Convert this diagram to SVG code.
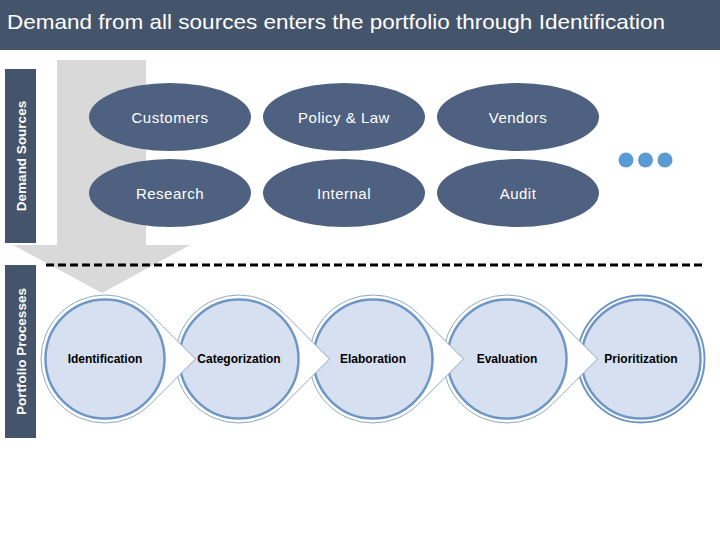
<svg xmlns="http://www.w3.org/2000/svg" width="720" height="540" viewBox="0 0 720 540">
<style>
.hdr{fill:#44546A}
.title{font-family:"Liberation Sans",Arial,sans-serif;font-size:21px;fill:#fff}
.side{font-family:"Liberation Sans",Arial,sans-serif;font-size:13.5px;font-weight:bold;fill:#fff}
.src{fill:#4E6181}
.srct{font-family:"Liberation Sans",Arial,sans-serif;font-size:15px;letter-spacing:0.5px;fill:#fff;text-anchor:middle}
.tear{fill:#fff;stroke:#8DA6C4;stroke-width:1}
.inner{fill:#D6E0F1;stroke:#6F97C5;stroke-width:2.5}
.proct{font-family:"Liberation Sans",Arial,sans-serif;font-size:12px;font-weight:bold;fill:#000;text-anchor:middle}
.dot{fill:#5B9BD5}
</style>
<rect class="hdr" x="0" y="0" width="720" height="50"/>
<text class="title" x="7" y="29" textLength="658" lengthAdjust="spacingAndGlyphs">Demand from all sources enters the portfolio through Identification</text>

<g id="demand-sources-label">
<rect class="hdr" x="5" y="69" width="31" height="174"/>
<text class="side" transform="translate(25.5,156) rotate(-90)" text-anchor="middle">Demand Sources</text>
</g>
<g id="portfolio-processes-label">
<rect class="hdr" x="5" y="265" width="31" height="173"/>
<text class="side" transform="translate(25.5,351.5) rotate(-90)" text-anchor="middle">Portfolio Processes</text>
</g>

<g id="flow-arrow">
<polygon points="57,60 146,60 146,245 190,245 102,293 13,245 57,245" fill="#D9D9D9"/>
</g>

<g id="connectors">
<line x1="46" y1="265" x2="704" y2="265" stroke="#000" stroke-width="3" stroke-dasharray="8,4"/>
</g>

<g id="customers"><ellipse class="src" cx="170" cy="117" rx="81" ry="34"/><text class="srct" x="170" y="123">Customers</text></g>
<g id="policy-law"><ellipse class="src" cx="344" cy="117" rx="81" ry="34"/><text class="srct" x="344" y="123">Policy &amp; Law</text></g>
<g id="vendors"><ellipse class="src" cx="518" cy="117" rx="81" ry="34"/><text class="srct" x="518" y="123">Vendors</text></g>
<g id="research"><ellipse class="src" cx="170" cy="193" rx="81" ry="34"/><text class="srct" x="170" y="199">Research</text></g>
<g id="internal"><ellipse class="src" cx="344" cy="193" rx="81" ry="34"/><text class="srct" x="344" y="199">Internal</text></g>
<g id="audit"><ellipse class="src" cx="518" cy="193" rx="81" ry="34"/><text class="srct" x="518" y="199">Audit</text></g>
<g id="more">
<circle class="dot" cx="626" cy="160" r="7.5"/>
<circle class="dot" cx="645.5" cy="160" r="7.5"/>
<circle class="dot" cx="665" cy="160" r="7.5"/>
</g>

<g id="prioritization">
<circle cx="641" cy="359" r="63.5" fill="#fff" stroke="#6F97C5" stroke-width="2"/>
<circle class="inner" cx="641" cy="359" r="59.5"/>
<text class="proct" x="641" y="363">Prioritization</text>
</g>
<g id="evaluation">
<path class="tear" d="M552.25,313.75 L597.5,359 L552.25,404.25 A64,64 0 1 1 552.25,313.75 Z"/>
<circle class="inner" cx="507" cy="359" r="59.5"/>
<text class="proct" x="507" y="363">Evaluation</text>
</g>
<g id="elaboration">
<path class="tear" d="M418.25,313.75 L463.5,359 L418.25,404.25 A64,64 0 1 1 418.25,313.75 Z"/>
<circle class="inner" cx="373" cy="359" r="59.5"/>
<text class="proct" x="373" y="363">Elaboration</text>
</g>
<g id="categorization">
<path class="tear" d="M284.25,313.75 L329.5,359 L284.25,404.25 A64,64 0 1 1 284.25,313.75 Z"/>
<circle class="inner" cx="239" cy="359" r="59.5"/>
<text class="proct" x="239" y="363">Categorization</text>
</g>
<g id="identification">
<path class="tear" d="M150.25,313.75 L195.5,359 L150.25,404.25 A64,64 0 1 1 150.25,313.75 Z"/>
<circle class="inner" cx="105" cy="359" r="59.5"/>
<text class="proct" x="105" y="363">Identification</text>
</g>
</svg>
